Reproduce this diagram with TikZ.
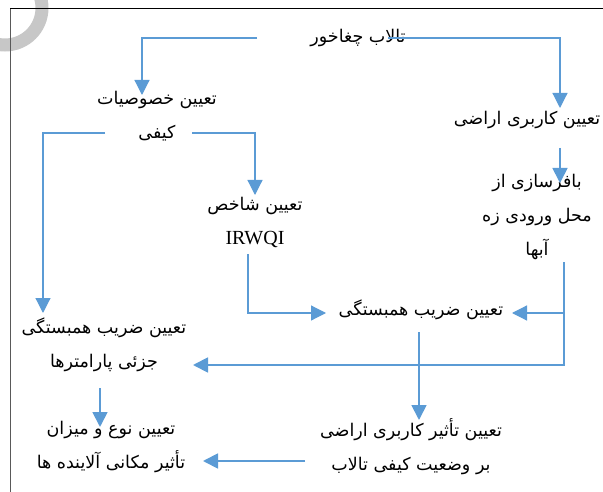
\documentclass[tikz,border=0pt]{standalone}
\usepackage{fontspec}
\usetikzlibrary{arrows.meta}
\TeXXeTstate=1
\newfontfamily\arabicfont[Script=Arabic]{DejaVu Sans}
\newfontfamily\latinfont{Liberation Serif}
\definecolor{linkblue}{HTML}{5B9BD5}
\tikzset{fa/.style={align=center, inner sep=0pt, font=\arabicfont\fontsize{17.5}{34}\selectfont},
         link/.style={draw=linkblue, line width=1.8pt, -{Triangle[width=15pt,length=15pt]}},
         linkthin/.style={link, line width=1.2pt}}

\begin{document}
\begin{tikzpicture}[x=1pt, y=-1pt]
    \useasboundingbox (0,0) rectangle (603,492);
    \draw[black!22, line width=13pt] (5,8) circle (37);
    \draw[black!65, line width=0.8pt] (10,492) -- (10,8);
    \draw[black, line width=0.8pt] (10,8) -- (603,8);

    \node (talab) [fa] at (358,38) {\beginR تالاب چغاخور\endR};
    \node (khosus) [fa] at (157,116) {\beginR تعیین خصوصیات\endR\\\beginR کیفی\endR};
    \node (karbari) [fa] at (527,120) {\beginR تعیین کاربری اراضی\endR};
    \node (shakhes) [fa] at (255,222) {\beginR تعیین شاخص\endR\\{\latinfont\fontsize{20}{34}\selectfont IRWQI}};
    \node (bafr) [fa] at (537,217) {\beginR بافرسازی از\endR\\\beginR محل ورودی زه\endR\\\beginR آبها\endR};
    \node (zarib) [fa] at (421,310) {\beginR تعیین ضریب همبستگی\endR};
    \node (jozei) [fa] at (104,345) {\beginR تعیین ضریب همبستگی\endR\\\beginR جزئی پارامترها\endR};
    \node (tasir) [fa] at (411,447) {\beginR تعیین تأثیر کاربری اراضی\endR\\\beginR بر وضعیت کیفی تالاب\endR};
    \node (noe) [fa] at (111,447) {\beginR تعیین نوع و میزان\endR\\\beginR تأثیر مکانی آلاینده ها\endR};

    % free ends of the connectors
    \coordinate (talab-l) at (257,38);
    \coordinate (talab-r) at (388,38);
    \coordinate (khosus-in) at (142,95);
    \coordinate (karbari-in) at (560,108);
    \coordinate (karbari-out) at (560,148);
    \coordinate (bafr-in) at (560,183);
    \coordinate (khosus-l) at (105,133);
    \coordinate (khosus-r) at (192,133);
    \coordinate (shakhes-in) at (255,195);
    \coordinate (jozei-in) at (43,313);
    \coordinate (shakhes-out) at (248,254);
    \coordinate (zarib-l) at (326,313);
    \coordinate (bafr-out) at (564,262);
    \coordinate (zarib-r) at (512,313);
    \coordinate (jozei-r) at (193,365);
    \coordinate (zarib-out) at (419,332);
    \coordinate (tasir-in) at (419,420);
    \coordinate (tasir-l) at (305,461);
    \coordinate (noe-r) at (203,461);
    \coordinate (jozei-out) at (100,388);
    \coordinate (noe-in) at (100,427);

    \draw[linkthin] (talab-l) -| (khosus-in);
    \draw[linkthin] (talab-r) -| (karbari-in);
    \draw[link] (karbari-out) -- (bafr-in);
    \draw[linkthin] (khosus-l) -| (jozei-in);
    \draw[linkthin] (khosus-r) -| (shakhes-in);
    \draw[linkthin] (shakhes-out) |- (zarib-l);
    \draw[linkthin] (bafr-out) |- (zarib-r);
    \draw[link] (bafr-out) |- (jozei-r);
    \draw[link] (zarib-out) -- (tasir-in);
    \draw[link] (tasir-l) -- (noe-r);
    \draw[link] (jozei-out) -- (noe-in);
\end{tikzpicture}
\end{document}
